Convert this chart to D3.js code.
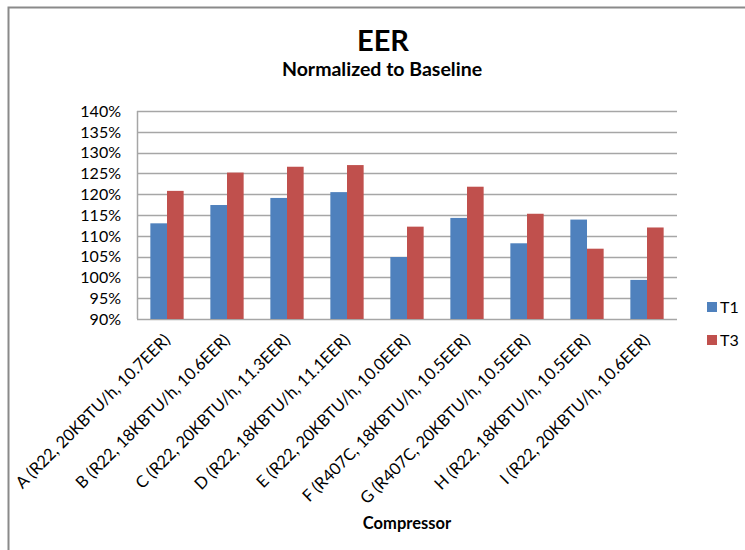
<!DOCTYPE html>
<html>
<head>
<meta charset="utf-8">
<script src="https://cdn.jsdelivr.net/npm/d3@7"></script>
<style>
  body { margin: 0; background: #fff; }
  svg text { font-family: Lato, "Open Sans", sans-serif; fill: #000; }
</style>
</head>
<body>
<svg id="chart"></svg>
<script>
// 数据
var categories = [
  "A (R22, 20KBTU/h, 10.7EER)",
  "B (R22, 18KBTU/h, 10.6EER)",
  "C (R22, 20KBTU/h, 11.3EER)",
  "D (R22, 18KBTU/h, 11.1EER)",
  "E (R22, 20KBTU/h, 10.0EER)",
  "F (R407C, 18KBTU/h, 10.5EER)",
  "G (R407C, 20KBTU/h, 10.5EER)",
  "H (R22, 18KBTU/h, 10.5EER)",
  "I (R22, 20KBTU/h, 10.6EER)"
]
var t1 = [1.130, 1.174, 1.191, 1.205, 1.049, 1.143, 1.082, 1.139, 0.994]
var t3 = [1.208, 1.252, 1.266, 1.270, 1.122, 1.218, 1.153, 1.069, 1.120]
var seriesNames = ["T1", "T3"]
var yTicks = [0.90, 0.95, 1.00, 1.05, 1.10, 1.15, 1.20, 1.25, 1.30, 1.35, 1.40]

var colors = { "T1": "#4f81bd", "T3": "#c0504d" }
var width = 745, height = 550
var plotLeft = 137, plotRight = 677, plotTop = 111, plotBottom = 319

var svg = d3.select("#chart").attr("width", width).attr("height", height)

// 外框
svg.append("rect")
  .attr("x", 8.5).attr("y", 7.5)
  .attr("width", 760).attr("height", 560)
  .attr("fill", "none").attr("stroke", "#8a8a8a").attr("stroke-width", 2)

var x = d3.scaleBand().domain(categories).range([plotLeft, plotRight]).paddingInner(0.445).paddingOuter(0.2225)
var xs = d3.scaleBand().domain(seriesNames).range([0, x.bandwidth()])
var y = d3.scaleLinear().domain([0.9, 1.4]).range([plotBottom, plotTop])

// 网格线
svg.append("g")
  .selectAll("line")
  .data(yTicks)
  .enter().append("line")
  .attr("x1", plotLeft).attr("x2", plotRight)
  .attr("y1", function (d) { return Math.round(y(d)) + 0.5 })
  .attr("y2", function (d) { return Math.round(y(d)) + 0.5 })
  .attr("stroke", "#a6a6a6").attr("stroke-width", 1.5)

// 坐标轴线
svg.append("line")
  .attr("x1", plotLeft + 0.5).attr("x2", plotLeft + 0.5)
  .attr("y1", plotTop).attr("y2", plotBottom)
  .attr("stroke", "#a6a6a6").attr("stroke-width", 1.5)

// y轴标签
svg.append("g")
  .selectAll("text")
  .data(yTicks)
  .enter().append("text")
  .attr("x", 121)
  .attr("y", function (d) { return y(d) })
  .attr("dy", "0.36em")
  .attr("text-anchor", "end")
  .attr("font-size", 16)
  .text(function (d) { return d3.format(".0%")(d) })

// 柱子
var groups = svg.append("g")
  .selectAll("g")
  .data(categories)
  .enter().append("g")
  .attr("transform", function (d) { return "translate(" + x(d) + ",0)" })

groups.selectAll("rect")
  .data(function (d, i) {
    return [{ s: "T1", v: t1[i] }, { s: "T3", v: t3[i] }]
  })
  .enter().append("rect")
  .attr("x", function (d) { return xs(d.s) })
  .attr("width", xs.bandwidth())
  .attr("y", function (d) { return y(d.v) })
  .attr("height", function (d) { return y(0.9) - y(d.v) })
  .attr("fill", function (d) { return colors[d.s] })

// x轴标签
svg.append("g")
  .selectAll("text")
  .data(categories)
  .enter().append("text")
  .attr("transform", function (d) {
    return "translate(" + (x(d) + x.bandwidth() / 2 + 4) + "," + 341 + ") rotate(-45)"
  })
  .attr("text-anchor", "end")
  .attr("font-size", 16.5)
  .text(function (d) { return d })

// 标题
svg.append("text")
  .attr("x", 383).attr("y", 51)
  .attr("text-anchor", "middle")
  .attr("font-size", 29).attr("font-weight", "bold")
  .text("EER")
svg.append("text")
  .attr("x", 382).attr("y", 76)
  .attr("text-anchor", "middle")
  .attr("font-size", 19.5).attr("font-weight", "bold")
  .text("Normalized to Baseline")

svg.append("text")
  .attr("x", (plotLeft + plotRight) / 2).attr("y", 529)
  .attr("text-anchor", "middle")
  .attr("font-size", 16.5).attr("font-weight", "bold")
  .text("Compressor")

// 图例
var legend = svg.append("g")
  .selectAll("g")
  .data(seriesNames)
  .enter().append("g")
  .attr("transform", function (d, i) { return "translate(707," + (302 + i * 33) + ")" })
legend.append("rect")
  .attr("width", 10).attr("height", 10)
  .attr("fill", function (d) { return colors[d] })
legend.append("text")
  .attr("x", 13).attr("y", 5).attr("dy", "0.36em")
  .attr("font-size", 16)
  .text(function (d) { return d })
</script>
</body>
</html>
